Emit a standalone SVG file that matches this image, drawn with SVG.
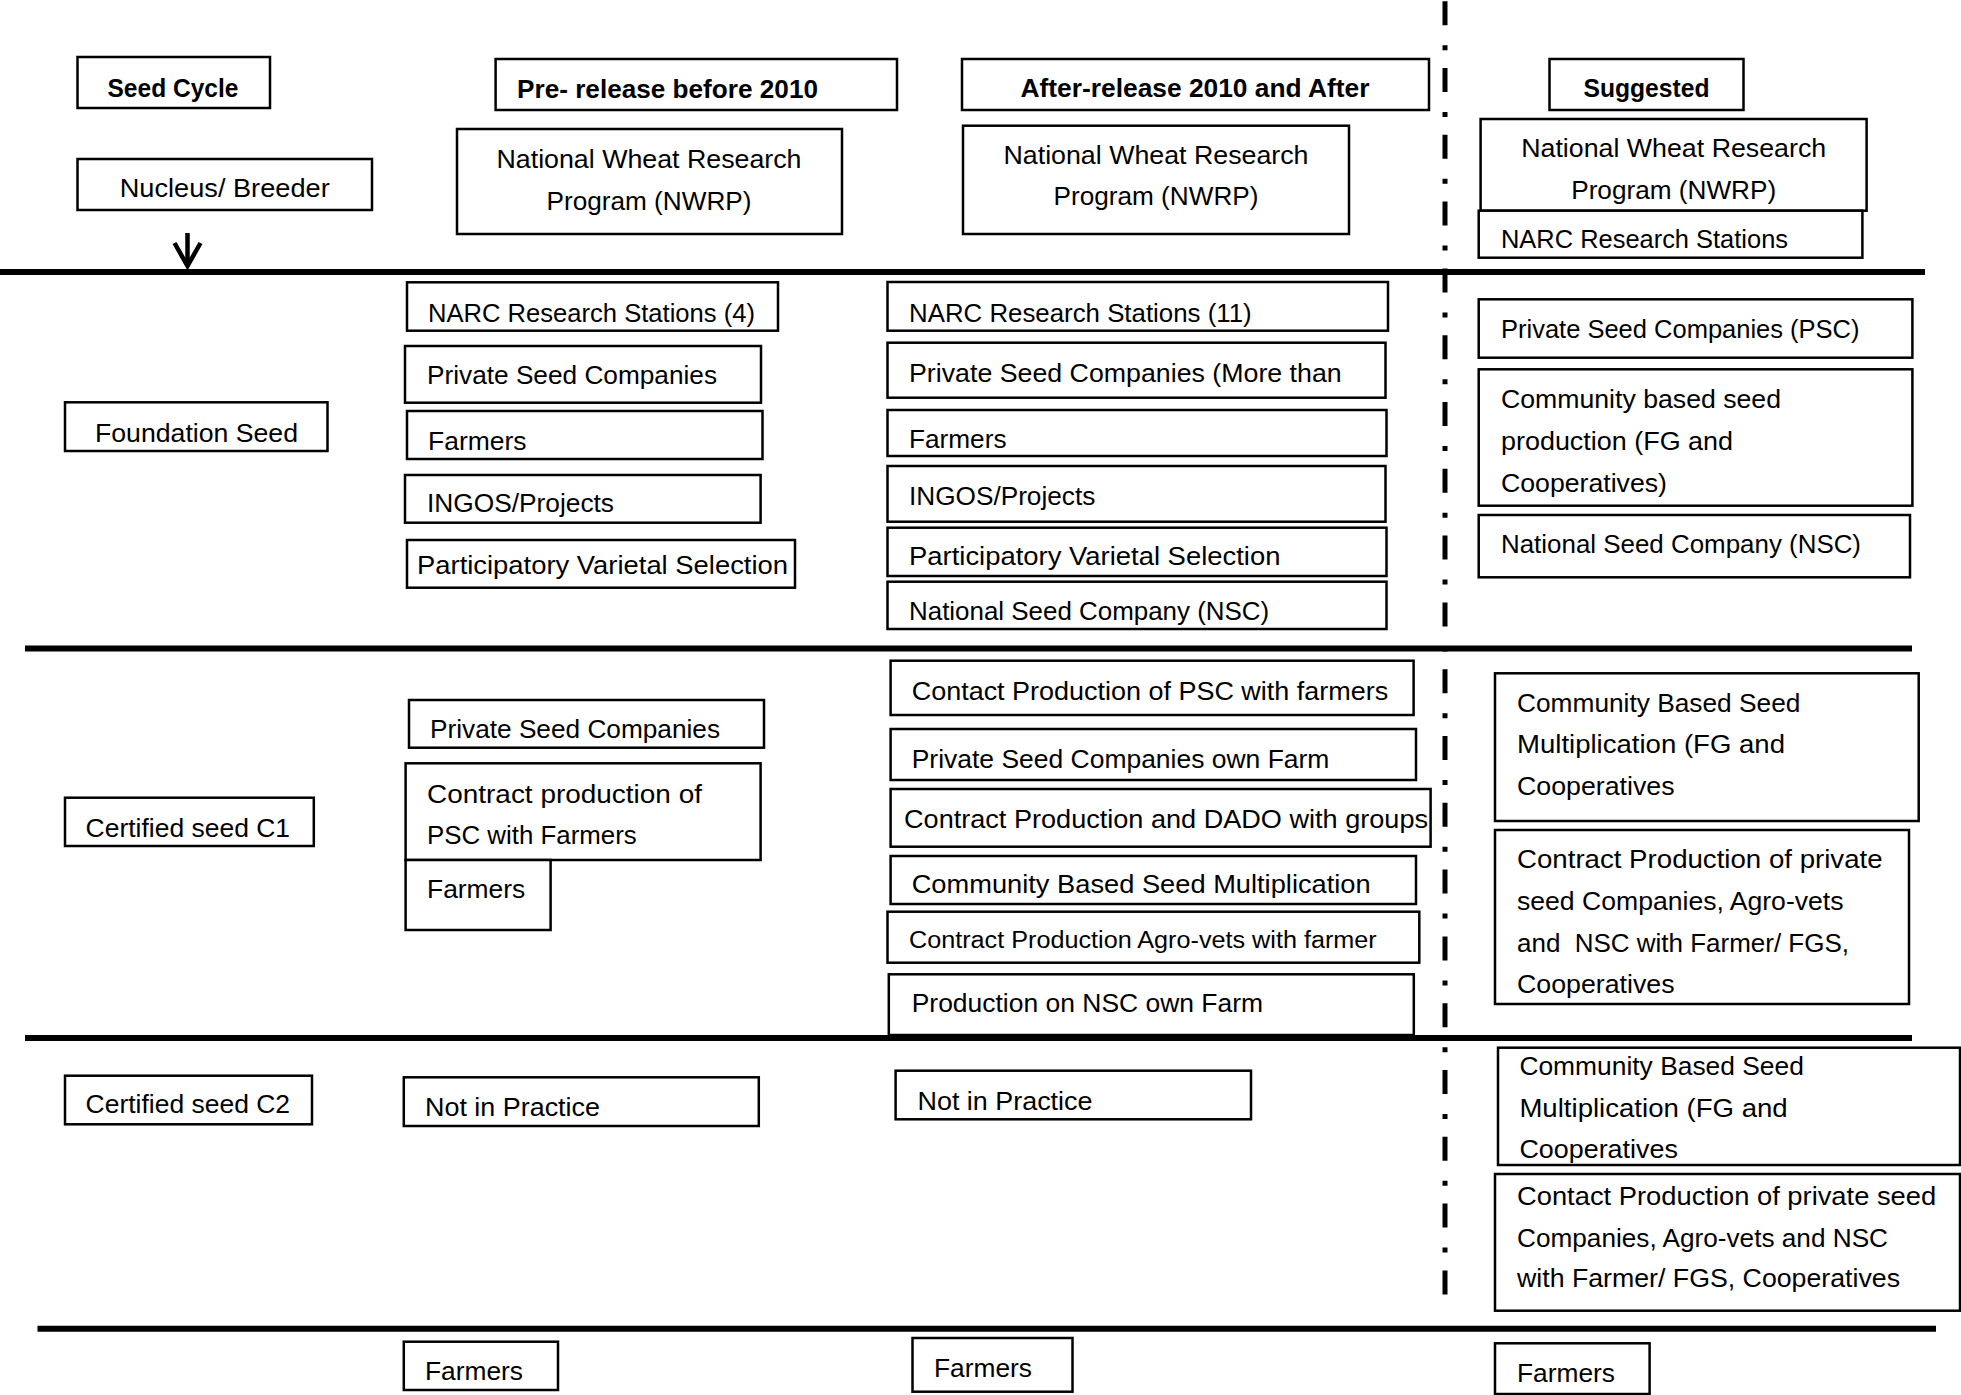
<svg xmlns="http://www.w3.org/2000/svg" width="1961" height="1395" viewBox="0 0 1961 1395">
<style>
.b{fill:#fff;stroke:#000;stroke-width:2.5}
.t{font-family:"Liberation Sans",Arial,sans-serif;font-size:25.5px;fill:#000}
.h{font-family:"Liberation Sans",Arial,sans-serif;font-size:25px;font-weight:bold;fill:#000}
.s{font-size:23.5px}
.m{text-anchor:middle}
.rule{stroke:#000;stroke-width:6;fill:none}
.dd{stroke:#000;stroke-width:5;fill:none;stroke-dasharray:24 20 5 17.8}
</style>
<defs>
<marker id="ah" markerUnits="userSpaceOnUse" markerWidth="40" markerHeight="40" refX="30" refY="20" orient="auto" viewBox="0 0 40 40">
<path d="M7,7 L30,20 L7,33" fill="none" stroke="#000" stroke-width="4.5"/>
</marker>
</defs>
<rect width="1961" height="1395" fill="#fff"/>
<g id="connectors">
<line class="rule" x1="0" y1="272" x2="1925" y2="272"/>
<line class="rule" x1="25" y1="648.5" x2="1912" y2="648.5"/>
<line class="rule" x1="25" y1="1038" x2="1912" y2="1038"/>
<line class="rule" x1="37.5" y1="1328.7" x2="1936" y2="1328.7"/>
<line class="dd" x1="1445" y1="1.2" x2="1445" y2="1295"/>
<line x1="187.5" y1="233" x2="187.5" y2="266" stroke="#000" stroke-width="4.5" marker-end="url(#ah)"/>
</g>
<g id="hdr-seedcycle"><rect class="b" x="77.5" y="57" width="192.5" height="51"/><text class="h m" x="173" y="96.7" textLength="131" lengthAdjust="spacingAndGlyphs">Seed Cycle</text></g>
<g id="hdr-pre"><rect class="b" x="495.6" y="59" width="401.4" height="51"/><text class="h" x="517" y="97.7" textLength="301" lengthAdjust="spacingAndGlyphs">Pre- release before 2010</text></g>
<g id="hdr-after"><rect class="b" x="962" y="59" width="467" height="51"/><text class="h m" x="1195" y="97" textLength="349" lengthAdjust="spacingAndGlyphs">After-release 2010 and After</text></g>
<g id="hdr-sugg"><rect class="b" x="1549.5" y="59" width="194" height="51"/><text class="h m" x="1646.5" y="97" textLength="126" lengthAdjust="spacingAndGlyphs">Suggested</text></g>

<g id="nucleus"><rect class="b" x="77.5" y="159" width="294.5" height="51"/><text class="t m" x="224.7" y="197" textLength="210" lengthAdjust="spacingAndGlyphs">Nucleus/ Breeder</text></g>
<g id="nwrp-pre"><rect class="b" x="457" y="129" width="385" height="105"/><text class="t m" x="649" y="168" textLength="305" lengthAdjust="spacingAndGlyphs">National Wheat Research</text><text class="t m" x="649" y="210" textLength="205" lengthAdjust="spacingAndGlyphs">Program (NWRP)</text></g>
<g id="nwrp-after"><rect class="b" x="963" y="125.7" width="386" height="108.3"/><text class="t m" x="1156" y="164" textLength="305" lengthAdjust="spacingAndGlyphs">National Wheat Research</text><text class="t m" x="1156" y="205" textLength="205" lengthAdjust="spacingAndGlyphs">Program (NWRP)</text></g>
<g id="nwrp-sugg"><rect class="b" x="1480.6" y="119" width="386" height="91.7"/><text class="t m" x="1673.7" y="156.7" textLength="305" lengthAdjust="spacingAndGlyphs">National Wheat Research</text><text class="t m" x="1673.7" y="199" textLength="205" lengthAdjust="spacingAndGlyphs">Program (NWRP)</text></g>
<g id="narc-sugg"><rect class="b" x="1478.7" y="210.7" width="383.7" height="47"/><text class="t" x="1501" y="248" textLength="287" lengthAdjust="spacingAndGlyphs">NARC Research Stations</text></g>

<g id="foundation"><rect class="b" x="65" y="402.3" width="262.5" height="48.7"/><text class="t" x="95" y="441.7" textLength="203" lengthAdjust="spacingAndGlyphs">Foundation Seed</text></g>
<g id="f-pre-narc"><rect class="b" x="407" y="282.3" width="371" height="48.4"/><text class="t" x="428" y="321.7" textLength="327" lengthAdjust="spacingAndGlyphs">NARC Research Stations (4)</text></g>
<g id="f-pre-psc"><rect class="b" x="405" y="346" width="356" height="56.7"/><text class="t" x="427" y="384.3" textLength="290" lengthAdjust="spacingAndGlyphs">Private Seed Companies</text></g>
<g id="f-pre-farmers"><rect class="b" x="407" y="411" width="355.5" height="48"/><text class="t" x="428" y="450" textLength="98.5" lengthAdjust="spacingAndGlyphs">Farmers</text></g>
<g id="f-pre-ingos"><rect class="b" x="405" y="475" width="355.6" height="47.7"/><text class="t" x="427" y="511.7" textLength="187" lengthAdjust="spacingAndGlyphs">INGOS/Projects</text></g>
<g id="f-pre-pvs"><rect class="b" x="407" y="540" width="388" height="47.7"/><text class="t" x="417" y="574.3" textLength="371" lengthAdjust="spacingAndGlyphs">Participatory Varietal Selection</text></g>

<g id="f-after-narc"><rect class="b" x="887.5" y="282" width="500.5" height="48.7"/><text class="t" x="909" y="321.7" textLength="342.7" lengthAdjust="spacingAndGlyphs">NARC Research Stations (11)</text></g>
<g id="f-after-psc"><rect class="b" x="887.5" y="342.7" width="498" height="55"/><text class="t" x="909" y="381.7" textLength="432.7" lengthAdjust="spacingAndGlyphs">Private Seed Companies (More than</text></g>
<g id="f-after-farmers"><rect class="b" x="887.5" y="410" width="499" height="46"/><text class="t" x="909" y="448" textLength="97.5" lengthAdjust="spacingAndGlyphs">Farmers</text></g>
<g id="f-after-ingos"><rect class="b" x="887.5" y="466" width="498" height="55.7"/><text class="t" x="909" y="505" textLength="186.3" lengthAdjust="spacingAndGlyphs">INGOS/Projects</text></g>
<g id="f-after-pvs"><rect class="b" x="887.5" y="527.7" width="499" height="48.3"/><text class="t" x="909" y="565" textLength="371.4" lengthAdjust="spacingAndGlyphs">Participatory Varietal Selection</text></g>
<g id="f-after-nsc"><rect class="b" x="887.5" y="581.7" width="499" height="47.3"/><text class="t" x="909" y="620" textLength="360.2" lengthAdjust="spacingAndGlyphs">National Seed Company (NSC)</text></g>

<g id="f-sugg-psc"><rect class="b" x="1478.7" y="299.3" width="433.7" height="58.4"/><text class="t" x="1501" y="338.3" textLength="358.5" lengthAdjust="spacingAndGlyphs">Private Seed Companies (PSC)</text></g>
<g id="f-sugg-cbsp"><rect class="b" x="1478.7" y="369.3" width="433.7" height="136.4"/><text class="t" x="1501" y="408.3" textLength="280" lengthAdjust="spacingAndGlyphs">Community based seed</text><text class="t" x="1501" y="450" textLength="232" lengthAdjust="spacingAndGlyphs">production (FG and</text><text class="t" x="1501" y="491.7" textLength="166" lengthAdjust="spacingAndGlyphs">Cooperatives)</text></g>
<g id="f-sugg-nsc"><rect class="b" x="1478.7" y="515" width="431.3" height="62.3"/><text class="t" x="1501" y="553.3" textLength="360" lengthAdjust="spacingAndGlyphs">National Seed Company (NSC)</text></g>

<g id="c1"><rect class="b" x="65" y="797.7" width="248.8" height="48.3"/><text class="t" x="85.6" y="836.7" textLength="204.5" lengthAdjust="spacingAndGlyphs">Certified seed C1</text></g>
<g id="c1-pre-psc"><rect class="b" x="409" y="700" width="355" height="47.7"/><text class="t" x="430" y="738.3" textLength="290" lengthAdjust="spacingAndGlyphs">Private Seed Companies</text></g>
<g id="c1-pre-contract"><rect class="b" x="405.6" y="763.3" width="355" height="96.7"/><text class="t" x="427" y="802.7" textLength="275" lengthAdjust="spacingAndGlyphs">Contract production of</text><text class="t" x="427" y="844" textLength="209.7" lengthAdjust="spacingAndGlyphs">PSC with Farmers</text></g>
<g id="c1-pre-farmers"><rect class="b" x="405.6" y="860" width="145" height="70"/><text class="t" x="427" y="898.3" textLength="98.3" lengthAdjust="spacingAndGlyphs">Farmers</text></g>

<g id="c1-after-1"><rect class="b" x="890.6" y="660.7" width="523" height="54.3"/><text class="t" x="911.7" y="700" textLength="476.5" lengthAdjust="spacingAndGlyphs">Contact Production of PSC with farmers</text></g>
<g id="c1-after-2"><rect class="b" x="890.6" y="729" width="525.4" height="51"/><text class="t" x="911.7" y="768.3" textLength="417.7" lengthAdjust="spacingAndGlyphs">Private Seed Companies own Farm</text></g>
<g id="c1-after-3"><rect class="b" x="890.6" y="789" width="540" height="57.7"/><text class="t" x="904" y="828.3" textLength="524" lengthAdjust="spacingAndGlyphs">Contract Production and DADO with groups</text></g>
<g id="c1-after-4"><rect class="b" x="890.6" y="856" width="525.4" height="48"/><text class="t" x="911.7" y="893.3" textLength="459" lengthAdjust="spacingAndGlyphs">Community Based Seed Multiplication</text></g>
<g id="c1-after-5"><rect class="b" x="887.5" y="911.7" width="531.8" height="51"/><text class="t s" x="909" y="948.3" textLength="467.7" lengthAdjust="spacingAndGlyphs">Contract Production Agro-vets with farmer</text></g>
<g id="c1-after-6"><rect class="b" x="888.8" y="974.3" width="525" height="60.7"/><text class="t" x="911.7" y="1011.7" textLength="351.4" lengthAdjust="spacingAndGlyphs">Production on NSC own Farm</text></g>

<g id="c1-sugg-1"><rect class="b" x="1495" y="673.3" width="423.7" height="147.7"/><text class="t" x="1517" y="711.7" textLength="283.4" lengthAdjust="spacingAndGlyphs">Community Based Seed</text><text class="t" x="1517" y="753.3" textLength="268" lengthAdjust="spacingAndGlyphs">Multiplication (FG and</text><text class="t" x="1517" y="795" textLength="157.6" lengthAdjust="spacingAndGlyphs">Cooperatives</text></g>
<g id="c1-sugg-2"><rect class="b" x="1495" y="830" width="414" height="174"/><text class="t" x="1517" y="868.3" textLength="365.6" lengthAdjust="spacingAndGlyphs">Contract Production of private</text><text class="t" x="1517" y="910" textLength="326.5" lengthAdjust="spacingAndGlyphs">seed Companies, Agro-vets</text><text class="t" x="1517" y="951.7" xml:space="preserve" textLength="332" lengthAdjust="spacingAndGlyphs">and  NSC with Farmer/ FGS,</text><text class="t" x="1517" y="993.3" textLength="157.6" lengthAdjust="spacingAndGlyphs">Cooperatives</text></g>

<g id="c2"><rect class="b" x="65" y="1075.7" width="247" height="48.6"/><text class="t" x="85.6" y="1113.3" textLength="204.5" lengthAdjust="spacingAndGlyphs">Certified seed C2</text></g>
<g id="c2-pre"><rect class="b" x="403.8" y="1077.3" width="355" height="48.7"/><text class="t" x="425" y="1116" textLength="175" lengthAdjust="spacingAndGlyphs">Not in Practice</text></g>
<g id="c2-after"><rect class="b" x="895.6" y="1070.7" width="355.4" height="48.6"/><text class="t" x="917.5" y="1110" textLength="175" lengthAdjust="spacingAndGlyphs">Not in Practice</text></g>
<g id="c2-sugg-1"><rect class="b" x="1498" y="1047.7" width="462" height="117.3"/><text class="t" x="1519.4" y="1075" textLength="284.5" lengthAdjust="spacingAndGlyphs">Community Based Seed</text><text class="t" x="1519.4" y="1117.3" textLength="268.3" lengthAdjust="spacingAndGlyphs">Multiplication (FG and</text><text class="t" x="1519.4" y="1158.3" textLength="158.5" lengthAdjust="spacingAndGlyphs">Cooperatives</text></g>
<g id="c2-sugg-2"><rect class="b" x="1495" y="1174" width="465" height="136.7"/><text class="t" x="1517" y="1205" textLength="419.2" lengthAdjust="spacingAndGlyphs">Contact Production of private seed</text><text class="t" x="1517" y="1246.7" textLength="371" lengthAdjust="spacingAndGlyphs">Companies, Agro-vets and NSC</text><text class="t" x="1517" y="1287.3" textLength="383" lengthAdjust="spacingAndGlyphs">with Farmer/ FGS, Cooperatives</text></g>

<g id="farmers-pre"><rect class="b" x="403.8" y="1341.7" width="154.2" height="48.3"/><text class="t" x="425" y="1380" textLength="98" lengthAdjust="spacingAndGlyphs">Farmers</text></g>
<g id="farmers-after"><rect class="b" x="912.5" y="1338" width="160" height="53.7"/><text class="t" x="934" y="1376.7" textLength="98" lengthAdjust="spacingAndGlyphs">Farmers</text></g>
<g id="farmers-sugg"><rect class="b" x="1495" y="1343.3" width="154.6" height="50.7"/><text class="t" x="1517" y="1381.7" textLength="98" lengthAdjust="spacingAndGlyphs">Farmers</text></g>
</svg>
